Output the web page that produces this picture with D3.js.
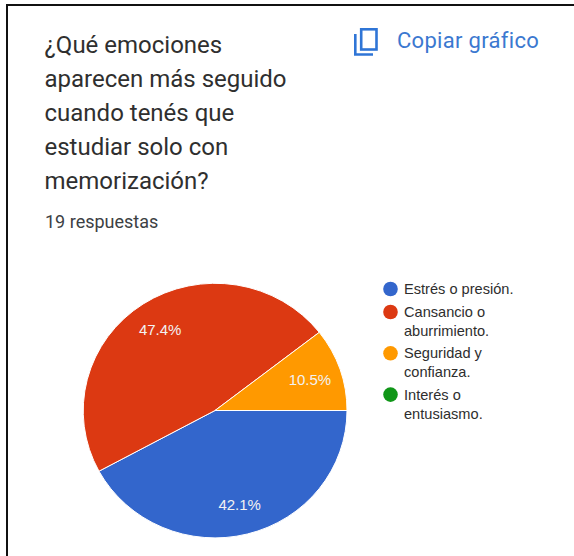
<!DOCTYPE html>
<html><head><meta charset="utf-8">
<script src="https://cdn.jsdelivr.net/npm/d3@7/dist/d3.min.js"></script>
<style>html,body{margin:0;padding:0;background:#fff;overflow:hidden}svg{display:block}</style>
</head><body><svg id="c" width="574" height="556"></svg>
<script>
const categories=["Estrés o presión.","Cansancio o aburrimiento.","Seguridad y confianza.","Interés o entusiasmo."];
const values=[42.1,47.4,10.5,0];
const colors=["#3366cc","#dc3912","#ff9900","#109618"];
const legendLines=[["Estrés o presión."],["Cansancio o","aburrimiento."],["Seguridad y","confianza."],["Interés o","entusiasmo."]];
const titleLines=["¿Qué emociones","aparecen más seguido","cuando tenés que","estudiar solo con","memorización?"];
const subtitle="19 respuestas";
const copyLabel="Copiar gráfico";

const svg=d3.select("#c");
svg.append("rect").attr("x",7).attr("y",5).attr("width",580).attr("height",600).attr("fill","#fff").attr("stroke","#111").attr("stroke-width",2);

const roboto="Roboto, sans-serif", arial="'Liberation Sans', Arial, sans-serif";
titleLines.forEach((t,i)=>svg.append("text").attr("x",44.5).attr("y",52.5+i*34.1).attr("font-family",roboto).attr("font-size",24).attr("fill","#2f2f2f").text(t));
svg.append("text").attr("x",45).attr("y",227.5).attr("font-family",roboto).attr("font-size",18).attr("fill","#3c4043").text(subtitle);
svg.append("text").attr("x",397).attr("y",48).attr("font-family",roboto).attr("font-size",22).attr("letter-spacing",0.3).attr("fill","#3b78d0").text(copyLabel);
const ic=svg.append("g").attr("fill","none").attr("stroke","#2f75d6").attr("stroke-width",2.6);
ic.append("rect").attr("x",361.2).attr("y",29.3).attr("width",15.3).attr("height",20.2);
ic.append("path").attr("d","M355.3 34 V 54.5 H 373");

const cx=215, cy=410.5, rx=132, ry=127.5;
const pie=d3.pie().sort(null).startAngle(Math.PI/2).endAngle(Math.PI*2.5).value(d=>d);
const arcs=pie(values);
const arc=d3.arc().innerRadius(0).outerRadius(1);
const labelArc=d3.arc().innerRadius(0.76).outerRadius(0.76);
const g=svg.append("g").attr("transform",`translate(${cx},${cy})`);
g.append("g").attr("transform",`scale(${rx},${ry})`).selectAll("path").data(arcs.filter(d=>d.value>0)).join("path").attr("d",arc).attr("fill",(d)=>colors[d.index]).attr("stroke","#fff").attr("stroke-width",1).attr("vector-effect","non-scaling-stroke");
g.selectAll("text").data(arcs.filter(d=>d.value>0)).join("text")
 .attr("transform",d=>{const c=labelArc.centroid(d);return `translate(${c[0]*rx},${c[1]*ry})`;}).attr("text-anchor","middle").attr("dy","0.36em")
 .attr("font-family",arial).attr("font-size",15).attr("fill","#f2f2f2").text(d=>d.value.toFixed(1)+"%");

let y=289;
const lg=svg.append("g");
legendLines.forEach((ls,i)=>{
  lg.append("circle").attr("cx",390.5).attr("cy",y).attr("r",7.3).attr("fill",colors[i]);
  ls.forEach((t,j)=>lg.append("text").attr("x",404).attr("y",y+5+j*19).attr("font-family",arial).attr("font-size",14.6).attr("fill","#2e2e2e").text(t));
  y+= ls.length===1?23:41.3;
});
</script></body></html>
